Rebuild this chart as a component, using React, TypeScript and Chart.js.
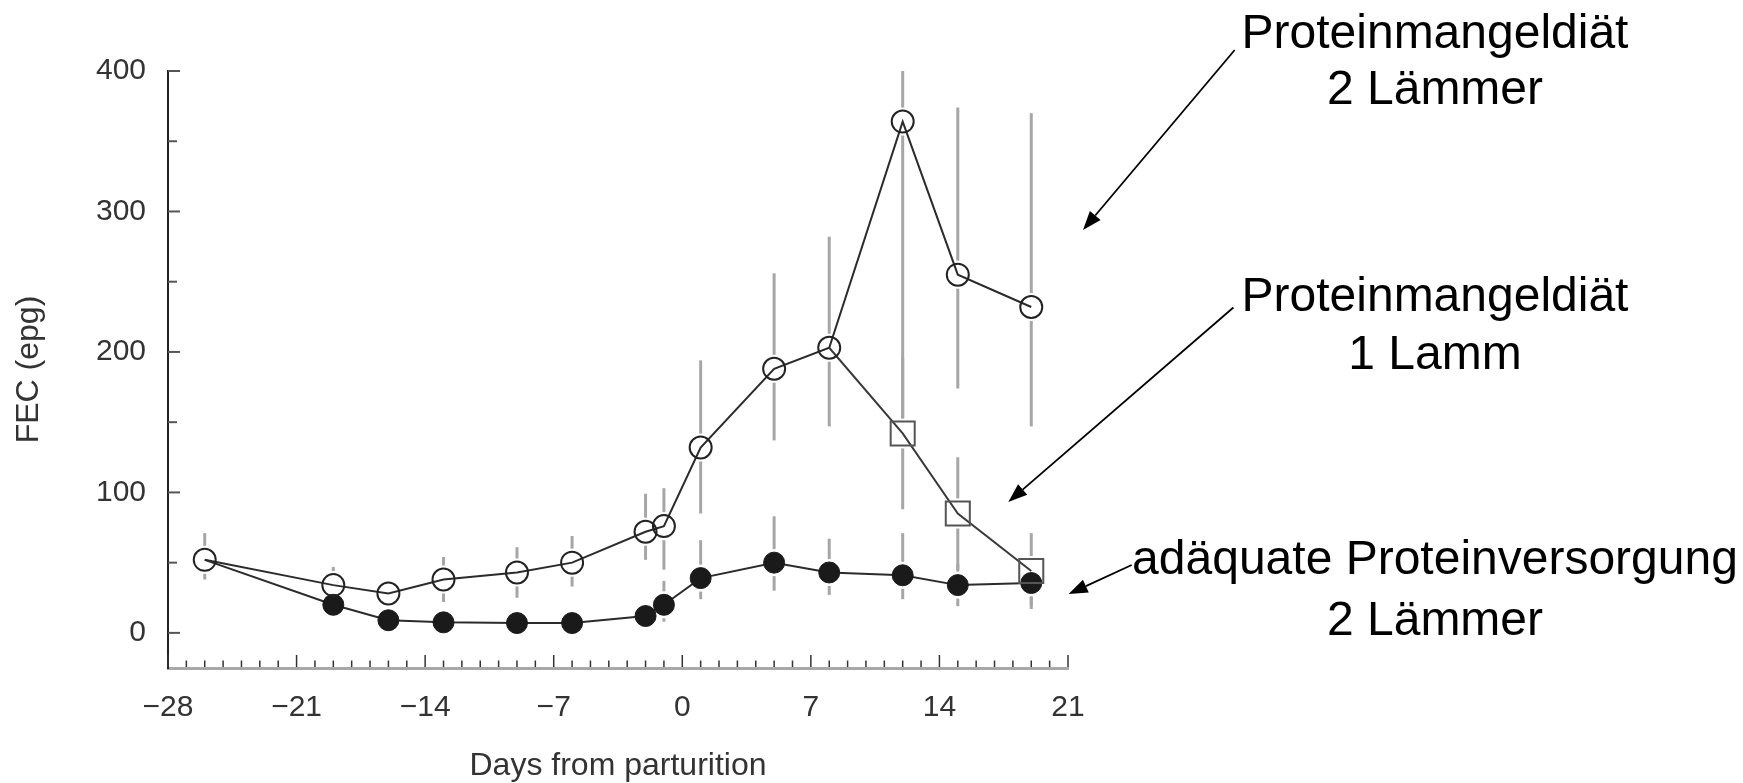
import { useEffect, useRef } from 'react';
import { Chart, registerables } from 'chart.js';

Chart.register(...registerables);

// ---- data (days from parturition, FEC in epg) ----
const days = [-26, -19, -16, -13, -9, -6, -2, -1, 1, 5, 8, 12, 15, 19];
const deficientTwinsFEC = [52, 34, 28, 38, 43, 50, 72, 76, 132, 188, 203, 364, 255, 232];
const deficientTwinsLow = [38, 21, 18, 22, 25, 33, 52, 45, 85, 137, 147, 150, 174, 147];
const deficientTwinsHigh = [71, 47, 37, 54, 61, 69, 99, 103, 194, 256, 282, 400, 374, 370];

const singleDays = [8, 12, 15, 19];
const deficientSingleFEC = [203, 142, 85, 44];
const deficientSingleLow: (number | null)[] = [null, 88, 45, 17];
const deficientSingleHigh: (number | null)[] = [null, 196, 125, 71];

const adequateTwinsFEC = [52, 20, 9, 7.5, 7, 7, 12, 20, 39, 50, 43, 41, 34, 35.5];
const adequateTwinsLow: (number | null)[] = [null, null, null, null, null, null, null, 8, 24, 30, 27, 24, 19, 19];
const adequateTwinsHigh: (number | null)[] = [null, null, null, null, null, null, null, 37, 66, 83, 67, 71, 49, 51];

const xTickLabels = [-28, -21, -14, -7, 0, 7, 14, 21];
const yTickLabels = [0, 100, 200, 300, 400];

const FONT = '"Liberation Sans", Arial, Helvetica, sans-serif';

const errorSeries = [
  { xs: days, lo: deficientTwinsLow, hi: deficientTwinsHigh },
  { xs: singleDays, lo: deficientSingleLow, hi: deficientSingleHigh },
  { xs: days, lo: adequateTwinsLow, hi: adequateTwinsHigh },
];

const errorBarPlugin = {
  id: 'errorBars',
  beforeDatasetsDraw(chart: any) {
    const { ctx } = chart;
    const xs = chart.scales.x;
    const ys = chart.scales.y;
    const holes: { x: number; y: number; r: number; rect: boolean }[] = [];
    chart.data.datasets.forEach((_: any, i: number) => {
      const meta = chart.getDatasetMeta(i);
      meta.data.forEach((pt: any) => {
        const r = pt.options.radius;
        if (r > 0) holes.push({ x: pt.x, y: pt.y, r, rect: pt.options.pointStyle === 'rect' });
      });
    });
    ctx.save();
    ctx.strokeStyle = '#a6a6a6';
    ctx.lineWidth = 3;
    ctx.lineCap = 'butt';
    errorSeries.forEach((s) => {
      s.xs.forEach((d, i) => {
        const lo = s.lo[i];
        const hi = s.hi[i];
        if (lo == null || hi == null) return;
        const px = xs.getPixelForValue(d);
        const top = ys.getPixelForValue(hi);
        const bot = ys.getPixelForValue(lo);
        // cut intervals where markers sit
        const cuts: [number, number][] = [];
        holes.forEach((h) => {
          const dx = Math.abs(h.x - px);
          if (h.rect) {
            const half = h.r * Math.SQRT1_2 + 3;
            if (dx < half) cuts.push([h.y - half, h.y + half]);
          } else {
            const R = h.r + 3;
            if (dx < R) {
              const dy = Math.sqrt(R * R - dx * dx);
              cuts.push([h.y - dy, h.y + dy]);
            }
          }
        });
        cuts.sort((a, b) => a[0] - b[0]);
        let cur = top;
        const segs: [number, number][] = [];
        cuts.forEach(([a, b]) => {
          if (b <= cur) return;
          if (a > cur) segs.push([cur, Math.min(a, bot)]);
          cur = Math.max(cur, b);
        });
        if (cur < bot) segs.push([cur, bot]);
        segs.forEach(([a, b]) => {
          if (b - a <= 0) return;
          ctx.beginPath();
          ctx.moveTo(px, a);
          ctx.lineTo(px, b);
          ctx.stroke();
        });
      });
    });
    ctx.restore();
  },
};

const axisTickPlugin = {
  id: 'innerTicks',
  afterDraw(chart: any) {
    const { ctx, chartArea } = chart;
    const xs = chart.scales.x;
    const ys = chart.scales.y;
    ctx.save();
    ctx.strokeStyle = '#333';
    ctx.lineWidth = 1.5;
    for (let d = Math.ceil(xs.min); d <= xs.max; d++) {
      const px = xs.getPixelForValue(d);
      const len = d % 7 === 0 ? 12 : 6.5;
      ctx.beginPath();
      ctx.moveTo(px, chartArea.bottom - 1);
      ctx.lineTo(px, chartArea.bottom - 1 - len);
      ctx.stroke();
    }
    ctx.strokeStyle = '#555';
    ctx.lineWidth = 2;
    for (let v = 0; v <= ys.max; v += 50) {
      const py = ys.getPixelForValue(v);
      const len = v % 100 === 0 ? 12 : 9;
      ctx.beginPath();
      ctx.moveTo(chartArea.left, py);
      ctx.lineTo(chartArea.left + len, py);
      ctx.stroke();
    }
    ctx.restore();
  },
};

const notes = [
  { lines: ['Proteinmangeldiät', '2 Lämmer'], baselines: [47.5, 103.5], from: [1234.7, 50], to: [1083, 230] },
  { lines: ['Proteinmangeldiät', '1 Lamm'], baselines: [311, 368.5], from: [1233.4, 307.5], to: [1008.3, 502] },
  { lines: ['adäquate Proteinversorgung', '2 Lämmer'], baselines: [574, 635], from: [1131.7, 565], to: [1068.6, 594] },
];

const annotationPlugin = {
  id: 'notes',
  afterDraw(chart: any) {
    const { ctx } = chart;
    ctx.save();
    ctx.fillStyle = '#000';
    ctx.strokeStyle = '#000';
    ctx.font = `48px ${FONT}`;
    ctx.textAlign = 'center';
    ctx.textBaseline = 'alphabetic';
    notes.forEach((n) => {
      n.lines.forEach((t, i) => ctx.fillText(t, 1435, n.baselines[i]));
      const [x1, y1] = n.from;
      const [x2, y2] = n.to;
      const ang = Math.atan2(y2 - y1, x2 - x1);
      const hl = 19;
      const hw = 7;
      const bx = x2 - hl * Math.cos(ang);
      const by = y2 - hl * Math.sin(ang);
      ctx.lineWidth = 1.8;
      ctx.beginPath();
      ctx.moveTo(x1, y1);
      ctx.lineTo(bx, by);
      ctx.stroke();
      ctx.beginPath();
      ctx.moveTo(x2, y2);
      ctx.lineTo(bx + hw * Math.sin(ang), by - hw * Math.cos(ang));
      ctx.lineTo(bx - hw * Math.sin(ang), by + hw * Math.cos(ang));
      ctx.closePath();
      ctx.fill();
    });
    ctx.restore();
  },
};

export default function App() {
  const ref = useRef<HTMLCanvasElement>(null);
  useEffect(() => {
    document.body.style.margin = '0';
    document.body.style.overflow = 'hidden';
    Chart.defaults.font.family = FONT;
    const lineColor = '#2b2b2b';
    const chart = new Chart(ref.current as HTMLCanvasElement, {
      type: 'line',
      data: {
        datasets: [
          {
            label: 'Proteinmangeldiät, 2 Lämmer',
            data: days.map((d, i) => ({ x: d, y: deficientTwinsFEC[i] })),
            borderColor: lineColor,
            borderWidth: 2,
            pointStyle: 'circle',
            pointRadius: 11,
            pointHoverRadius: 11,
            pointBorderWidth: 2,
            pointBorderColor: '#222',
            pointBackgroundColor: 'rgba(0,0,0,0)',
            tension: 0,
          },
          {
            label: 'Proteinmangeldiät, 1 Lamm',
            data: singleDays.map((d, i) => ({ x: d, y: deficientSingleFEC[i] })),
            borderColor: '#3a3a3a',
            borderWidth: 2,
            pointStyle: 'rect',
            pointRadius: singleDays.map((_, i) => (i === 0 ? 0 : 17)),
            pointHoverRadius: singleDays.map((_, i) => (i === 0 ? 0 : 17)),
            pointBorderWidth: 2,
            pointBorderColor: '#555',
            pointBackgroundColor: 'rgba(0,0,0,0)',
            tension: 0,
          },
          {
            label: 'adäquate Proteinversorgung, 2 Lämmer',
            data: days.map((d, i) => ({ x: d, y: adequateTwinsFEC[i] })),
            borderColor: lineColor,
            borderWidth: 2,
            pointStyle: 'circle',
            pointRadius: days.map((_, i) => (i === 0 ? 0 : 10.5)),
            pointHoverRadius: days.map((_, i) => (i === 0 ? 0 : 10.5)),
            pointBorderWidth: 1,
            pointBorderColor: '#1a1a1a',
            pointBackgroundColor: '#1a1a1a',
            tension: 0,
          },
        ],
      },
      options: {
        animation: false,
        responsive: false,
        events: [],
        layout: { padding: { left: 0, right: 675, top: 71, bottom: 0 } },
        plugins: { legend: { display: false }, tooltip: { enabled: false } },
        scales: {
          x: {
            type: 'linear',
            min: -28,
            max: 21,
            grid: { display: false, drawTicks: false },
            border: { display: true, color: '#a8a8a8', width: 3 },
            afterBuildTicks: (s: any) => {
              s.ticks = xTickLabels.map((v) => ({ value: v }));
            },
            afterFit: (s: any) => {
              s.height = 115;
            },
            ticks: {
              autoSkip: false,
              maxRotation: 0,
              color: '#333',
              padding: 22,
              font: { size: 30 },
              callback: (v: any) => (Number(v) < 0 ? '\u2212' + Math.abs(Number(v)) : String(v)),
            },
            title: {
              display: true,
              text: 'Days from parturition',
              color: '#333',
              font: { size: 32 },
              padding: { top: 0, bottom: -2 },
            },
          },
          y: {
            type: 'linear',
            min: -25,
            max: 400,
            grid: { display: false, drawTicks: false },
            border: { display: true, color: '#222', width: 2 },
            afterBuildTicks: (s: any) => {
              s.ticks = yTickLabels.map((v) => ({ value: v }));
            },
            afterFit: (s: any) => {
              s.width = 168;
            },
            ticks: {
              color: '#333',
              padding: 22,
              font: { size: 30 },
            },
            title: {
              display: true,
              text: 'FEC (epg)',
              color: '#333',
              font: { size: 32 },
              padding: { top: 10, bottom: 0 },
            },
          },
        },
      } as any,
      plugins: [errorBarPlugin, axisTickPlugin, annotationPlugin],
    });
    return () => chart.destroy();
  }, []);
  return (
    <div style={{ width: 1743, height: 783 }}>
      <canvas ref={ref} width={1743} height={783} style={{ display: 'block' }} />
    </div>
  );
}
